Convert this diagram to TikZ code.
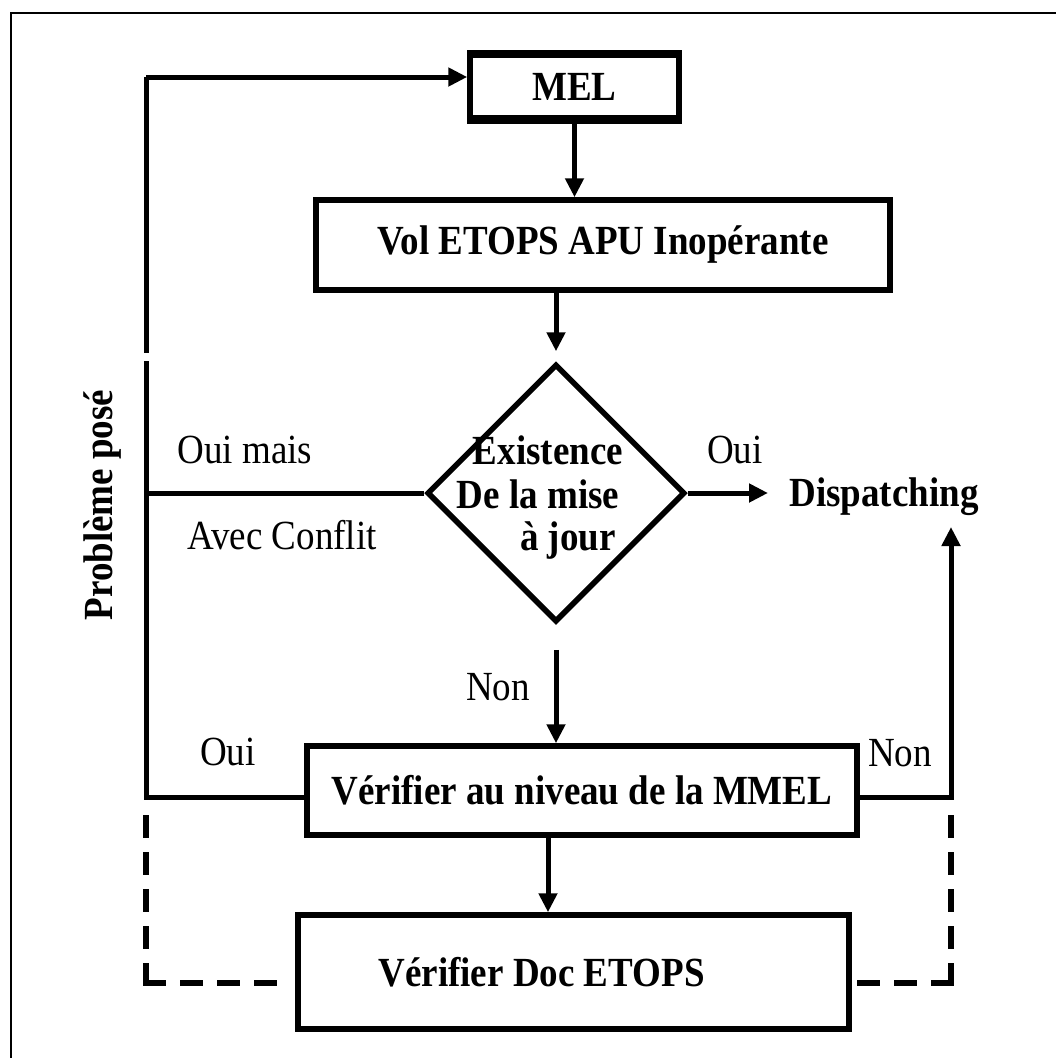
\documentclass[tikz,border=0pt]{standalone}
\usepackage{fontspec}
\setmainfont{Liberation Serif}
\usetikzlibrary{arrows.meta,shapes.geometric,calc}
\newcommand{\stretchtxt}[1]{\scalebox{1}[1.12]{#1}}
\begin{document}
\begin{tikzpicture}[x=1pt,y=-1pt,
  every node/.style={inner sep=0pt},
  boxnode/.style={draw, line width=5.5pt, font=\fontsize{37}{42}\selectfont\bfseries},
  conn/.style={line width=5pt, line join=miter},
  arr/.style={conn, -{Triangle[length=19pt,width=18pt]}},
  dashline/.style={line width=5.5pt, line cap=rect, dash pattern=on 17pt off 20pt},
  lbl/.style={font=\fontsize{37}{42}\selectfont},
  blbl/.style={font=\fontsize{37}{42}\selectfont\bfseries}]
\useasboundingbox (0,0) rectangle (1056,1058);
% outer frame
\draw[line width=2.5pt] (11,1058) -- (11,13) -- (1056,13);

% boxes
\node[boxnode, minimum width=209pt, minimum height=68pt] (mel) at (574.5,87) {\stretchtxt{MEL}};
\fill (mel.north west) rectangle ($(mel.north east)+(0,8)$);
\fill ($(mel.south west)+(0,-9)$) rectangle (mel.south east);
\node[boxnode, minimum width=574pt, minimum height=90pt] (vol) at (603,245) {\stretchtxt{Vol ETOPS APU Inopérante}};
\node[draw, diamond, aspect=1, line width=5.5pt, minimum width=258pt, minimum height=258pt] (dia) at (556,493) {};
\node[boxnode, minimum width=550pt, minimum height=89pt] (mmel) at (582,790.5) {\stretchtxt{Vérifier au niveau de la MMEL}};
\node[boxnode, minimum width=551pt, minimum height=114pt] (doc) at (573.5,972) {\stretchtxt{Vérifier Doc ETOPS}\hspace*{64pt}};

% texts
\node[blbl] (t1) at (548,450) {\stretchtxt{Existence}};
\node[blbl] (t2) at (538,494) {\stretchtxt{De la mise}};
\node[blbl] (t3) at (568,541) {\stretchtxt{à jour}};
\node[blbl] (disp) at (884,497) {\stretchtxt{Dispatching}};
\node[lbl] (ouiR) at (735,450) {\stretchtxt{Oui}};
\node[lbl] (ouimais) at (245,450) {\stretchtxt{Oui mais}};
\node[lbl] (avec) at (282,535) {\stretchtxt{Avec Conflit}};
\node[blbl, rotate=90] (pb) at (103,505) {\stretchtxt{Problème posé}};
\node[lbl] (non1) at (498,687) {\stretchtxt{Non}};
\node[lbl] (oui2) at (228,752) {\stretchtxt{Oui}};
\node[lbl] (non2) at (900,753) {\stretchtxt{Non}};

% coordinates
\coordinate (ltop) at (146,77);
\coordinate (lgapA) at (146,353);
\coordinate (lgapB) at (146,361);
\coordinate (lbot) at (146,797);
\coordinate (lmid) at (146,493);
\coordinate (rbot) at (951,797);
\coordinate (rtip) at (951,527);
\coordinate (otip) at (768,493);
\coordinate (ldA) at (146,813);
\coordinate (ldB) at (146,983);
\coordinate (ldC) at (277,983);
\coordinate (rdA) at (951,813);
\coordinate (rdB) at (951,983);
\coordinate (rdC) at (855,983);

% connectors
\draw[arr] (ltop) -- (ltop -| mel.west);
\draw[conn] (ltop) -- (lgapA);
\draw[conn] (lgapB) -- (lbot) -- (mmel.west |- lbot);
\draw[conn] (dia.west) -- (lmid);
\draw[arr] (dia.east) -- (otip);
\draw[arr] (mel.south) -- (mel.south |- vol.north);
\draw[arr] (dia.north |- vol.south) -- ([yshift=10pt]dia.north);
\draw[arr] ([yshift=-25pt]dia.south) -- (dia.south |- mmel.north);
\draw[arr] ([xshift=-34pt]mmel.south) -- ([xshift=-34pt]mmel.south |- doc.north);
\draw[arr] (mmel.east |- rbot) -- (rbot) -- (rtip);

% dashed returns
\draw[dashline] (ldB) -- (ldA);
\draw[dashline] (ldB) -- (ldC);
\draw[dashline] (rdB) -- (rdA);
\draw[dashline] (rdB) -- (rdC);
\end{tikzpicture}
\end{document}
